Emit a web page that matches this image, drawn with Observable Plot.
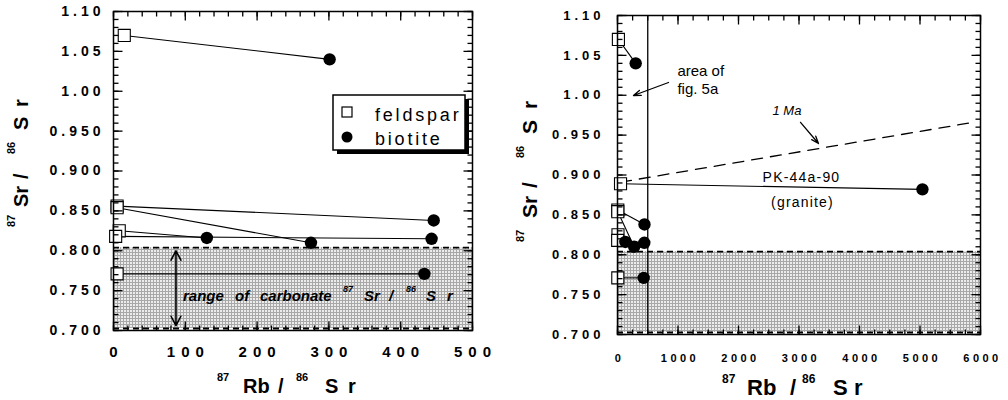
<!DOCTYPE html>
<html><head><meta charset="utf-8">
<script src="https://cdn.jsdelivr.net/npm/d3@7"></script>
<script src="https://cdn.jsdelivr.net/npm/@observablehq/plot@0.6"></script>
<style>
body{margin:0;background:#fff;}
#wrap{display:flex;width:1008px;height:400px;}
svg text{font-family:"Liberation Sans",Arial,sans-serif;}
.pL g[aria-label="x-axis tick label"] text{letter-spacing:6px;}
.pL g[aria-label="y-axis tick label"] text{letter-spacing:4px;}
.pR g[aria-label="x-axis tick label"] text{letter-spacing:3.5px;}
.pR g[aria-label="y-axis tick label"] text{letter-spacing:4px;}
</style></head><body><div id="wrap"></div>
<script>
// ---- data ----
const feldsparRb = [15, 5, 5, 8, 3, 5];
const feldsparSr = [1.070, 0.856, 0.854, 0.825, 0.818, 0.771];
const biotiteRb  = [301, 446, 275, 130, 443, 433];
const biotiteSr  = [1.040, 0.838, 0.810, 0.816, 0.815, 0.771];
// sample PK-44a-90 (granite): [feldspar, biotite]
const pkRb = [50, 5040];
const pkSr = [0.889, 0.882];
// 1 Ma reference isochron
const isochronRb = [50, 5800];
const isochronSr = [0.891, 0.965];
// range of carbonate 87Sr/86Sr
const carbonateRange = [0.7025, 0.804];
const carbonateArrowRb = 87;
const carbonateArrowSr = [0.753, 0.800, 0.706];
// area of fig. 5a
const fig5aRb = 500;
// axis ticks
const yTicks = [1.10, 1.05, 1.00, 0.95, 0.90, 0.85, 0.80, 0.75, 0.70];
const yTickLabels = ["1.10", "1.05", "1.00", "0.950", "0.900", "0.850", "0.800", "0.750", "0.700"];
const xTicksLeft = [0, 100, 200, 300, 400, 500];
const xTicksRight = [0, 1000, 2000, 3000, 4000, 5000, 6000];

const yDomain = [0.700, 1.10];
const yMinor = d3.range(70, 111).map(d => d / 100);
const yLabelMap = new Map(yTicks.map((v, i) => [v.toFixed(2), yTickLabels[i]]));

function feldsparPts(withPk) {
  const p = feldsparRb.map((x, i) => ({x, y: feldsparSr[i]}));
  if (withPk) p.push({x: pkRb[0], y: pkSr[0]});
  return p;
}
function biotitePts(withPk) {
  const p = biotiteRb.map((x, i) => ({x, y: biotiteSr[i]}));
  if (withPk) p.push({x: pkRb[1], y: pkSr[1]});
  return p;
}
function ties(withPk) {
  const t = feldsparRb.map((x, i) => ({x1: x, y1: feldsparSr[i], x2: biotiteRb[i], y2: biotiteSr[i]}));
  if (withPk) t.push({x1: pkRb[0], y1: pkSr[0], x2: pkRb[1], y2: pkSr[1]});
  return t;
}

// inward tick marks on all four sides; pixel lengths converted to data units
function tickMarks(xDomain, xMinor, xMajor, W, H) {
  const xa = xDomain[0], xb = xDomain[1], ya = yDomain[0], yb = yDomain[1];
  const ux = (xb - xa) / W, uy = (yb - ya) / H;
  const segs = [];
  for (const [ticks, len] of [[xMinor, 5], [xMajor, 9]]) {
    for (const t of ticks) {
      segs.push({x1: t, x2: t, y1: ya, y2: ya + len * uy});
      segs.push({x1: t, x2: t, y1: yb, y2: yb - len * uy});
    }
  }
  for (const [ticks, len] of [[yMinor, 5], [yTicks, 9]]) {
    for (const t of ticks) {
      segs.push({x1: xa, x2: xa + len * ux, y1: t, y2: t});
      segs.push({x1: xb, x2: xb - len * ux, y1: t, y2: t});
    }
  }
  return Plot.link(segs, {x1: "x1", x2: "x2", y1: "y1", y2: "y2", stroke: "black", strokeWidth: 1.3});
}

function addPattern(svg, id) {
  const defs = d3.select(svg).insert("defs", ":first-child");
  const p = defs.append("pattern").attr("id", id).attr("patternUnits", "userSpaceOnUse")
    .attr("width", 3).attr("height", 3);
  p.append("rect").attr("width", 3).attr("height", 3).attr("fill", "#ececec");
  p.append("rect").attr("width", 3).attr("height", 1).attr("fill", "#a8a8a8");
  p.append("rect").attr("width", 1).attr("height", 3).attr("fill", "#a8a8a8");
}

function addParts(svg, transform, parts, style) {
  const g = d3.select(svg).append("g").attr("transform", transform).attr("text-anchor", "start");
  for (const p of parts) {
    const t = g.append("text").attr("x", p.x).attr("y", p.y).attr("font-size", p.s)
      .attr("font-weight", "bold").attr("fill", "black").text(p.t);
    if (style) t.attr("font-style", style);
  }
}

// ---------- left panel ----------
const LW = 504 - 113 - 32, LH = 400 - 11 - 70;
const left = Plot.plot({
  className: "pL",
  width: 504, height: 400,
  marginLeft: 113, marginRight: 32, marginTop: 11, marginBottom: 70,
  x: {domain: [0, 500]},
  y: {domain: yDomain},
  style: {fontFamily: "Liberation Sans, Arial, sans-serif", color: "black", background: "white"},
  marks: [
    Plot.rect([carbonateRange], {y1: d => d[0], y2: d => d[1], fill: "url(#dotsL)"}),
    Plot.ruleY(carbonateRange, {strokeDasharray: "6,4", strokeWidth: 1.8}),
    Plot.link(ties(false), {x1: "x1", y1: "y1", x2: "x2", y2: "y2", stroke: "black", strokeWidth: 1.1}),
    Plot.arrow(carbonateArrowSr.slice(1), {x1: () => carbonateArrowRb, y1: () => carbonateArrowSr[0], x2: () => carbonateArrowRb, y2: d => d, headLength: 10, headAngle: 55, strokeWidth: 1.6}),
    Plot.dot(feldsparPts(false), {x: "x", y: "y", symbol: "square", r: 6.8, fill: "white", stroke: "black", strokeWidth: 1.1}),
    Plot.dot(biotitePts(false), {x: "x", y: "y", r: 6.2, fill: "black"}),
    tickMarks([0, 500], d3.range(0, 501, 20), xTicksLeft, LW, LH),
    Plot.frame({strokeWidth: 1.5}),
    Plot.axisX({anchor: "bottom", ticks: xTicksLeft, tickSize: 0, tickPadding: 16, fontSize: 15, fontWeight: "bold", dx: 3, tickFormat: d => String(d), label: null}),
    Plot.axisY({anchor: "left", ticks: yTicks, tickSize: 0, tickPadding: 9, fontSize: 14, fontWeight: "bold", tickFormat: d => yLabelMap.get(d.toFixed(2)), label: null})
  ]
});
addPattern(left, "dotsL");
// legend with drop shadow
{
  const s = d3.select(left).append("g").attr("text-anchor", "start");
  s.append("rect").attr("x", 337).attr("y", 99).attr("width", 132).attr("height", 55).attr("fill", "black");
  s.append("rect").attr("x", 333).attr("y", 95).attr("width", 132).attr("height", 55).attr("fill", "white").attr("stroke", "black").attr("stroke-width", 1.5);
  s.append("rect").attr("x", 342).attr("y", 107).attr("width", 10).attr("height", 10).attr("fill", "white").attr("stroke", "black").attr("stroke-width", 1.2);
  s.append("circle").attr("cx", 347).attr("cy", 137).attr("r", 5.5).attr("fill", "black");
  s.append("text").attr("x", 375).attr("y", 121).attr("font-size", 18).attr("letter-spacing", 2.8).text("feldspar");
  s.append("text").attr("x", 375).attr("y", 145).attr("font-size", 18).attr("letter-spacing", 2.8).text("biotite");
}
// carbonate annotation
addParts(left, "translate(0,0)", [
  {t: "range", x: 183, y: 301, s: 15}, {t: "of", x: 235, y: 301, s: 15},
  {t: "carbonate", x: 260, y: 301, s: 15}, {t: "87", x: 343, y: 292, s: 9},
  {t: "Sr", x: 364, y: 301, s: 15}, {t: "/", x: 389, y: 301, s: 15},
  {t: "86", x: 406, y: 292, s: 9}, {t: "S", x: 426, y: 301, s: 15}, {t: "r", x: 447, y: 301, s: 15}
], "italic");
// axis titles
addParts(left, "translate(0,0)", [
  {t: "87", x: 217, y: 381, s: 11}, {t: "Rb", x: 243, y: 393, s: 20}, {t: "/", x: 278, y: 393, s: 20},
  {t: "86", x: 296, y: 381, s: 11}, {t: "S", x: 325, y: 393, s: 20}, {t: "r", x: 348, y: 393, s: 20}
]);
addParts(left, "translate(28,227) rotate(-90)", [
  {t: "87", x: 0, y: -13, s: 11}, {t: "Sr", x: 20, y: 0, s: 20}, {t: "/", x: 48, y: 0, s: 20},
  {t: "86", x: 73, y: -13, s: 11}, {t: "S", x: 97, y: 0, s: 20}, {t: "r", x: 120, y: 0, s: 20}
]);

// ---------- right panel ----------
const annoText = [
  {x: 990, y: 1.0298, t: "area of", a: "start", s: 15, st: "normal"},
  {x: 990, y: 1.0072, t: "fig. 5a", a: "start", s: 15, st: "normal"},
  {x: 2562, y: 0.980, t: "1 Ma", a: "start", s: 13, st: "italic"},
  {x: 3041, y: 0.8969, t: "PK-44a-90", a: "middle", s: 14, st: "normal"},
  {x: 3058, y: 0.8655, t: "(granite)", a: "middle", s: 14, st: "normal"}
];
const annoArrows = [
  {x1: 843, y1: 1.016, x2: 264, y2: 0.9997},
  {x1: 3025, y1: 0.966, x2: 3322, y2: 0.9395}
];
const isochron = isochronRb.map((x, i) => ({x, y: isochronSr[i]}));

const RW = 504 - 113 - 28, RH = 400 - 15 - 66;
const right = Plot.plot({
  className: "pR",
  width: 504, height: 400,
  marginLeft: 113, marginRight: 28, marginTop: 15, marginBottom: 66,
  x: {domain: [0, 6000]},
  y: {domain: yDomain},
  style: {fontFamily: "Liberation Sans, Arial, sans-serif", color: "black", background: "white"},
  marks: [
    Plot.rect([carbonateRange], {y1: d => d[0], y2: d => d[1], fill: "url(#dotsR)"}),
    Plot.ruleY(carbonateRange, {strokeDasharray: "6,4", strokeWidth: 1.8}),
    Plot.ruleX([fig5aRb], {strokeWidth: 1.3}),
    Plot.line(isochron, {x: "x", y: "y", strokeDasharray: "11,8", strokeWidth: 1.3}),
    Plot.link(ties(true), {x1: "x1", y1: "y1", x2: "x2", y2: "y2", stroke: "black", strokeWidth: 1.1}),
    Plot.arrow(annoArrows, {x1: "x1", y1: "y1", x2: "x2", y2: "y2", headLength: 9, headAngle: 40, strokeWidth: 1.3}),
    ...annoText.map(d => Plot.text([d], {x: "x", y: "y", text: "t", textAnchor: d.a, fontSize: d.s, fontStyle: d.st, fill: "black"})),
    Plot.dot(feldsparPts(true), {x: "x", y: "y", symbol: "square", r: 6.8, fill: "white", stroke: "black", strokeWidth: 1.1}),
    Plot.dot(biotitePts(true), {x: "x", y: "y", r: 6.2, fill: "black"}),
    tickMarks([0, 6000], d3.range(0, 6001, 250), xTicksRight, RW, RH),
    Plot.frame({strokeWidth: 1.5}),
    Plot.axisX({anchor: "bottom", ticks: xTicksRight, tickSize: 0, tickPadding: 20, fontSize: 11, fontWeight: "bold", dx: 2, tickFormat: d => String(d), label: null}),
    Plot.axisY({anchor: "left", ticks: yTicks, tickSize: 0, tickPadding: 13, fontSize: 13, fontWeight: "bold", tickFormat: d => yLabelMap.get(d.toFixed(2)), label: null})
  ]
});
addPattern(right, "dotsR");
d3.select(right).selectAll('g[aria-label="text"] text').each(function() {
  const t = this.textContent;
  if (t === "PK-44a-90" || t === "(granite)") d3.select(this).attr("letter-spacing", 1.2);
});
addParts(right, "translate(0,0)", [
  {t: "87", x: 218, y: 383, s: 12}, {t: "Rb", x: 243, y: 395, s: 22}, {t: "/", x: 286, y: 395, s: 22},
  {t: "86", x: 298, y: 383, s: 12}, {t: "S", x: 329, y: 395, s: 22}, {t: "r", x: 350, y: 395, s: 22}
]);
addParts(right, "translate(33,242) rotate(-90)", [
  {t: "87", x: 0, y: -13, s: 11}, {t: "Sr", x: 24, y: 0, s: 21}, {t: "/", x: 54, y: 0, s: 21},
  {t: "86", x: 84, y: -13, s: 11}, {t: "S", x: 108, y: 0, s: 21}, {t: "r", x: 133, y: 0, s: 21}
]);

document.getElementById("wrap").append(left, right);
</script></body></html>
